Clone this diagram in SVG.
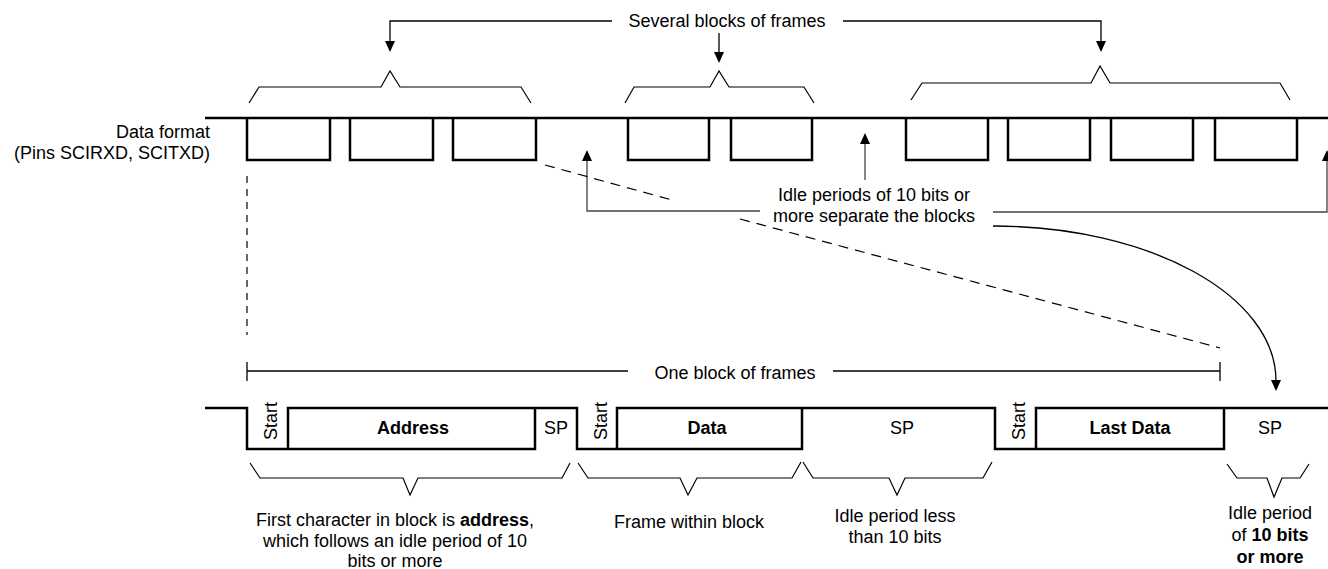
<svg xmlns="http://www.w3.org/2000/svg" width="1328" height="569" viewBox="0 0 1328 569">
<style>
text{font-family:"Liberation Sans",Arial,sans-serif;font-size:18px;fill:#000}
.c{text-anchor:middle}
.e{text-anchor:end}
.b{font-weight:bold}
.wave{fill:none;stroke:#000;stroke-width:2.5;stroke-linejoin:miter}
.ln{fill:none;stroke:#000;stroke-width:1.3}
.gl{fill:none;stroke:#444;stroke-width:1.3}
.br{fill:none;stroke:#000;stroke-width:1.2}
.dash{fill:none;stroke:#000;stroke-width:1.2;stroke-dasharray:10 7}
.vdash{fill:none;stroke:#666;stroke-width:2;stroke-dasharray:7 6}
.ah{fill:#000}
</style>
<rect width="1328" height="569" fill="#fff"/>

<g id="top-signal">
  <text class="e" x="210" y="138">Data format</text>
  <text class="e" x="210" y="159">(Pins SCIRXD, SCITXD)</text>
  <path class="wave" d="M205,118 H1328"/>
  <path class="wave" d="M247,118 V160 H330 V118 M350,118 V160 H433 V118 M453,118 V160 H536 V118 M628,118 V160 H709 V118 M731,118 V160 H812 V118 M906,118 V160 H988 V118 M1008,118 V160 H1090 V118 M1111,118 V160 H1193 V118 M1215,118 V160 H1297 V118"/>
</g>

<g id="top-braces">
  <path class="br" d="M249,103 L259,87 H381 L390,71 L400,87 H521 L531,103"/>
  <path class="br" d="M625,103 L634,87 H710 L719,71 L729,87 H804 L814,103"/>
  <path class="br" d="M911,100 L922,83 H1091 L1100,66 L1110,83 H1280 L1290,100"/>
</g>

<g id="several-blocks-label">
  <text class="c" x="727" y="27">Several blocks of frames</text>
</g>

<g id="idle-label">
  <text class="c" x="874" y="201">Idle periods of 10 bits or</text>
  <text class="c" x="874" y="222">more separate the blocks</text>
</g>

<g id="one-block-label">
  <text class="c" x="735" y="379">One block of frames</text>
</g>

<g id="connectors">
  <path class="ln" d="M612,21 H390 V42"/>
  <polygon class="ah" points="385,41 395,41 390,52"/>
  <path class="ln" d="M719,33 V53"/>
  <polygon class="ah" points="714,52 724,52 719,63"/>
  <path class="ln" d="M843,21 H1101 V42"/>
  <polygon class="ah" points="1096,41 1106,41 1101,52"/>

  <path class="gl" d="M760,211 H587 V160"/>
  <polygon class="ah" points="582,161 592,161 587,150"/>
  <path class="gl" d="M865,180 V143"/>
  <polygon class="ah" points="860,144 870,144 865,133"/>
  <path class="gl" d="M993,212 H1327 V160"/>
  <polygon class="ah" points="1322,161 1332,161 1327,150"/>
  <path class="ln" d="M993,226 C1149,226 1276,295 1276,381"/>
  <polygon class="ah" points="1271,380 1281,380 1276,391"/>

  <path class="vdash" d="M247,176 V335"/>
  <path class="dash" d="M545,165 L672,200 M740,219 L1220,348"/>

  <path class="ln" d="M247,371 H628 M833,371 H1220 M247,362 V381 M1220,362 V381"/>
</g>

<g id="bottom-signal">
  <path class="wave" d="M205,408 H247 V449 H535 V408 M288,449 V408 H577 V449 H617 V408 H995 V449 H1036 V408 H1328 M617,449 H802 V408 M1036,449 H1224 V408"/>
  <text class="c" transform="translate(277,421) rotate(-90)">Start</text>
  <text class="c b" x="413" y="434">Address</text>
  <text class="c" x="556" y="434">SP</text>
  <text class="c" transform="translate(607,421) rotate(-90)">Start</text>
  <text class="c b" x="707" y="434">Data</text>
  <text class="c" x="902" y="434">SP</text>
  <text class="c" transform="translate(1025,421) rotate(-90)">Start</text>
  <text class="c b" x="1130" y="434">Last Data</text>
  <text class="c" x="1270" y="434">SP</text>
</g>

<g id="bottom-braces">
  <path class="br" d="M250,463 L260,478 H403 L410,495 L418,478 H562 L570,463"/>
  <path class="br" d="M578,463 L588,478 H680 L688,495 L697,478 H792 L801,462"/>
  <path class="br" d="M803,462 L813,478 H889 L897,495 L905,478 H983 L992,462"/>
  <path class="br" d="M1227,464 L1237,478 H1267 L1274,497 L1282,478 H1300 L1309,464"/>
</g>

<g id="first-char-note">
  <text class="c" x="395" y="526">First character in block is <tspan class="b">address</tspan>,</text>
  <text class="c" x="395" y="547">which follows an idle period of 10</text>
  <text class="c" x="395" y="567">bits or more</text>
</g>
<g id="frame-note">
  <text class="c" x="689" y="528">Frame within block</text>
</g>
<g id="idle-less-note">
  <text class="c" x="895" y="522">Idle period less</text>
  <text class="c" x="895" y="543">than 10 bits</text>
</g>
<g id="idle-more-note">
  <text class="c" x="1270" y="519">Idle period</text>
  <text class="c" x="1270" y="541">of <tspan class="b">10 bits</tspan></text>
  <text class="c b" x="1270" y="563">or more</text>
</g>
</svg>
